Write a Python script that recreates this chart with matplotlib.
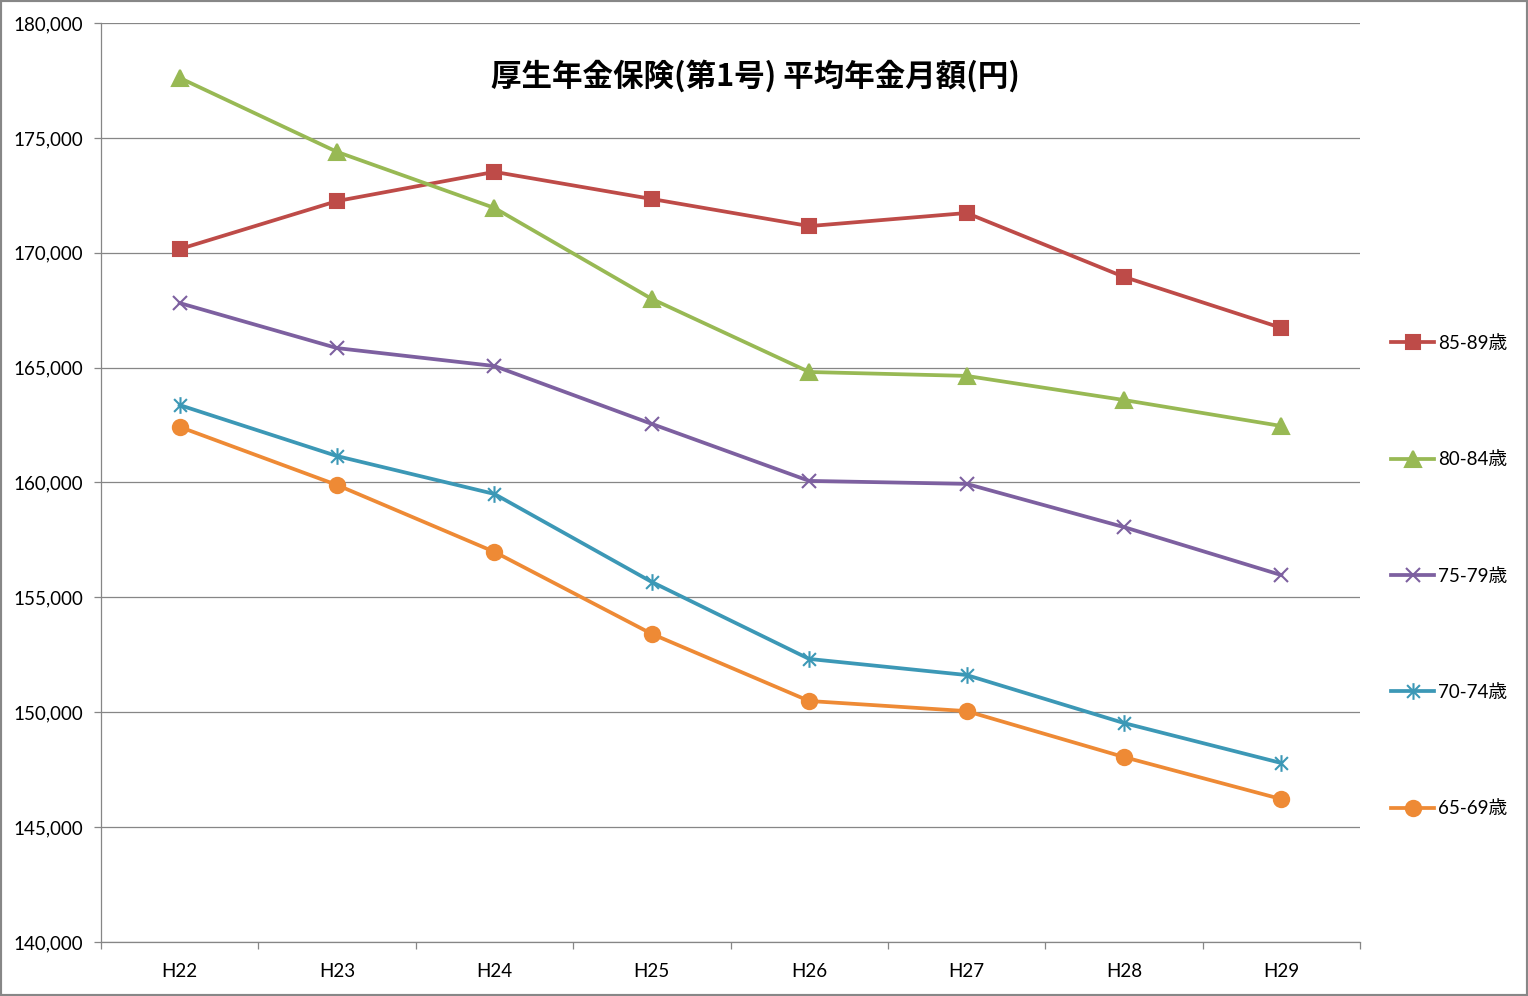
import numpy as np
import matplotlib
matplotlib.use("Agg")
import matplotlib.pyplot as plt
from matplotlib.path import Path
from matplotlib.patches import Rectangle

plt.rcParams['font.family'] = ['Lato', 'Noto Sans CJK JP', 'DejaVu Sans']

years = ["H22", "H23", "H24", "H25", "H26", "H27", "H28", "H29"]
age_85_89 = [170160, 172250, 173520, 172340, 171160, 171730, 168950, 166730]
age_80_84 = [177610, 174390, 171950, 167990, 164810, 164640, 163590, 162460]
age_75_79 = [167810, 165850, 165070, 162550, 160070, 159940, 158060, 155970]
age_70_74 = [163370, 161150, 159500, 155670, 152320, 151620, 149530, 147790]
age_65_69 = [162420, 159890, 156980, 153410, 150490, 150050, 148050, 146220]

title = "厚生年金保険(第1号) 平均年金月額(円)"

# asterisk marker: X plus vertical bar
star = Path([(-1, -1), (1, 1), (-1, 1), (1, -1), (0, -1.3), (0, 1.3)],
            [Path.MOVETO, Path.LINETO, Path.MOVETO, Path.LINETO, Path.MOVETO, Path.LINETO])

series = [
    ("85-89歳", age_85_89, "#BE4B48", "s", 10),
    ("80-84歳", age_80_84, "#98B954", "^", 11),
    ("75-79歳", age_75_79, "#7D60A0", "x", 10),
    ("70-74歳", age_70_74, "#3C98B6", star, 12),
    ("65-69歳", age_65_69, "#EE8A35", "o", 11),
]

fig = plt.figure(figsize=(15.28, 9.96), dpi=100)
ax = fig.add_axes([101/1528, 54/996, 1259/1528, 919/996])

x = np.arange(len(years))
for label, vals, color, marker, ms in series:
    ax.plot(x, vals, color=color, lw=2.7, marker=marker, markersize=ms,
            markeredgewidth=1.5, markeredgecolor=color, markerfacecolor=color,
            label=label, zorder=3)

ax.set_xlim(-0.5, len(years) - 0.5)
ax.set_ylim(140000, 180000)
ax.set_yticks(np.arange(140000, 180001, 5000))
ax.yaxis.set_major_formatter(matplotlib.ticker.FuncFormatter(lambda v, p: f"{int(v):,}"))
ax.set_xticks(x)
ax.set_xticklabels(years)
ax.set_xticks(np.arange(-0.5, len(years)), minor=True)

ax.grid(axis='y', color='#868686', lw=0.9, zorder=1)
for s in ['top', 'right']:
    ax.spines[s].set_visible(False)
for s in ['left', 'bottom']:
    ax.spines[s].set_color('#868686')
    ax.spines[s].set_linewidth(0.9)

ax.tick_params(axis='y', length=5, width=0.9, color='#868686', pad=8, labelsize=13.5)
ax.tick_params(axis='x', which='major', length=0, pad=15, labelsize=13.5)
ax.tick_params(axis='x', which='minor', length=5, width=0.9, color='#868686')

ax.text(0.52, 0.942, title, transform=ax.transAxes, ha='center', va='center',
        fontsize=22, fontweight='bold', family=['Noto Sans CJK JP'])

fig.legend(loc='center left', bbox_to_anchor=(1391/1528, (996-576)/996),
           frameon=False, fontsize=13.5, labelspacing=5.3, handlelength=2.3,
           handletextpad=0.2, borderpad=0, borderaxespad=0)

fig.patches.append(Rectangle((0, 0), 1, 1, transform=fig.transFigure, fill=False,
                             edgecolor='#878787', lw=3))

fig.savefig("out.png", dpi=100)
